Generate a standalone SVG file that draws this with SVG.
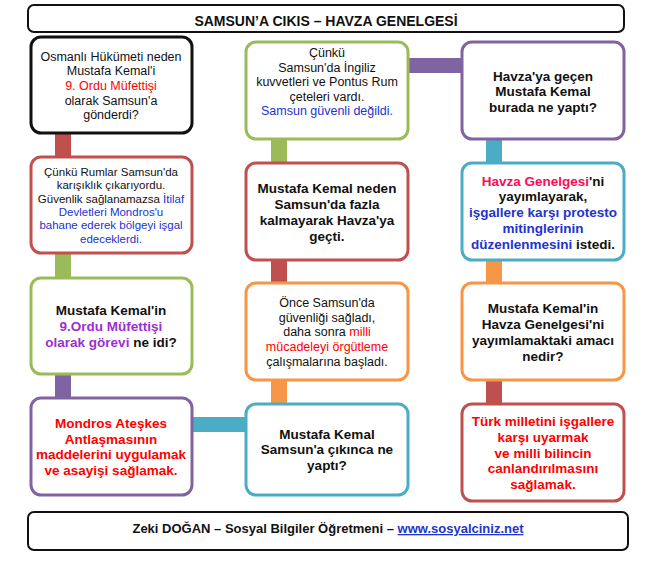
<svg xmlns="http://www.w3.org/2000/svg" width="648" height="570" viewBox="0 0 648 570">
<style>
text{font-family:"Liberation Sans",Arial,sans-serif;text-anchor:middle;fill:#111}
.q{font-weight:bold;font-size:13.5px}
.n{font-size:12.5px}
.s{font-size:11.5px}
.box{fill:#fff;stroke-width:3}
.r{fill:#f00}.b{fill:#2233cc}.p{fill:#9b30d0}.k{fill:#ff0a55}
</style>
<rect width="648" height="570" fill="#fff"/>
<g id="connectors">
<rect x="55" y="131" width="16" height="28" fill="#c0504d"/>
<rect x="55" y="251" width="16" height="28" fill="#9bbb59"/>
<rect x="55" y="372" width="16" height="28" fill="#8064a2"/>
<rect x="271" y="137" width="16" height="28" fill="#9bbb59"/>
<rect x="271" y="258" width="16" height="27" fill="#c0504d"/>
<rect x="271" y="378" width="16" height="28" fill="#f79646"/>
<rect x="486" y="137" width="16" height="28" fill="#4bacc6"/>
<rect x="486" y="258" width="16" height="27" fill="#f79646"/>
<rect x="486" y="378" width="16" height="28" fill="#c0504d"/>
<rect x="406" y="58" width="58" height="15" fill="#8064a2"/>
<rect x="190" y="417" width="58" height="15" fill="#4bacc6"/>
</g>
<g id="title"><rect x="28" y="5" width="596" height="27" rx="6" fill="#fff" stroke="#111" stroke-width="2"/>
<text x="326" y="26" style="font-weight:bold;font-size:14px">SAMSUN’A CIKIS – HAVZA GENELGESİ</text></g>
<g id="n1"><rect class="box" x="31" y="37" width="161" height="96" rx="10" stroke="#111"/>
<text class="n" x="111" y="61">Osmanlı Hükümeti neden</text><text class="n" x="111" y="75">Mustafa Kemal'i</text><text class="n r" x="111" y="90">9. Ordu Müfettişi</text><text class="n" x="111" y="105">olarak Samsun'a</text><text class="n" x="111" y="119">gönderdi?</text></g>
<g id="n2"><rect class="box" x="31" y="157" width="161" height="96" rx="10" stroke="#c0504d"/>
<text class="s" x="111" y="176">Çünkü Rumlar Samsun'da</text><text class="s" x="111" y="189">karışıklık çıkarıyordu.</text><text class="s" x="111" y="203">Güvenlik sağlanamazsa <tspan class="b">İtilaf</tspan></text><text class="s b" x="111" y="216">Devletleri Mondros'u</text><text class="s b" x="111" y="229">bahane ederek bölgeyi işgal</text><text class="s b" x="111" y="243">edeceklerdi.</text></g>
<g id="n3"><rect class="box" x="31" y="278" width="161" height="96" rx="10" stroke="#9bbb59"/>
<text class="q" x="111" y="315">Mustafa Kemal'in</text><text class="q p" x="111" y="331">9.Ordu Müfettişi</text><text class="q" x="111" y="347"><tspan class="p">olarak görevi</tspan> ne idi?</text></g>
<g id="n4"><rect class="box" x="31" y="398" width="161" height="97" rx="10" stroke="#8064a2"/>
<text class="q r" x="111" y="428">Mondros Ateşkes</text><text class="q r" x="111" y="444">Antlaşmasının</text><text class="q r" x="111" y="459">maddelerini uygulamak</text><text class="q r" x="111" y="475">ve asayişi sağlamak.</text></g>
<g id="n5"><rect class="box" x="246" y="42" width="162" height="97" rx="10" stroke="#9bbb59"/>
<text class="n" x="327" y="57">Çünkü</text><text class="n" x="327" y="72">Samsun'da İngiliz</text><text class="n" x="327" y="86">kuvvetleri ve Pontus Rum</text><text class="n" x="327" y="101">çeteleri vardı.</text><text class="n b" x="327" y="115">Samsun güvenli değildi.</text></g>
<g id="n6"><rect class="box" x="246" y="163" width="162" height="97" rx="10" stroke="#c0504d"/>
<text class="q" x="327" y="193">Mustafa Kemal neden</text><text class="q" x="327" y="209">Samsun'da fazla</text><text class="q" x="327" y="225">kalmayarak Havza'ya</text><text class="q" x="327" y="241">geçti.</text></g>
<g id="n7"><rect class="box" x="246" y="283" width="162" height="97" rx="10" stroke="#f79646"/>
<text class="n" x="327" y="307">Önce Samsun'da</text><text class="n" x="327" y="322">güvenliği sağladı,</text><text class="n" x="327" y="336">daha sonra <tspan class="r">milli</tspan></text><text class="n r" x="327" y="351">mücadeleyi örgütleme</text><text class="n" x="327" y="366">çalışmalarına başladı.</text></g>
<g id="n8"><rect class="box" x="246" y="404" width="162" height="91" rx="10" stroke="#4bacc6"/>
<text class="q" x="327" y="439">Mustafa Kemal</text><text class="q" x="327" y="454">Samsun'a çıkınca ne</text><text class="q" x="327" y="470">yaptı?</text></g>
<g id="n9"><rect class="box" x="462" y="42" width="162" height="97" rx="10" stroke="#8064a2"/>
<text class="q" x="543" y="81">Havza'ya geçen</text><text class="q" x="543" y="96">Mustafa Kemal</text><text class="q" x="543" y="112">burada ne yaptı?</text></g>
<g id="n10"><rect class="box" x="462" y="163" width="162" height="97" rx="10" stroke="#4bacc6"/>
<text class="q" x="543" y="186"><tspan class="k">Havza Genelgesi</tspan>'ni</text><text class="q" x="543" y="201">yayımlayarak,</text><text class="q b" x="543" y="217">işgallere karşı protesto</text><text class="q b" x="543" y="233">mitinglerinin</text><text class="q" x="543" y="249"><tspan class="b">düzenlenmesini</tspan> istedi.</text></g>
<g id="n11"><rect class="box" x="462" y="283" width="162" height="97" rx="10" stroke="#f79646"/>
<text class="q" x="543" y="313">Mustafa Kemal'in</text><text class="q" x="543" y="329">Havza Genelgesi'ni</text><text class="q" x="543" y="345">yayımlamaktaki amacı</text><text class="q" x="543" y="361">nedir?</text></g>
<g id="n12"><rect class="box" x="462" y="404" width="162" height="97" rx="10" stroke="#c0504d"/>
<text class="q r" x="543" y="426">Türk milletini işgallere</text><text class="q r" x="543" y="442">karşı uyarmak</text><text class="q r" x="543" y="458">ve milli bilincin</text><text class="q r" x="543" y="473">canlandırılmasını</text><text class="q r" x="543" y="489">sağlamak.</text></g>
<g id="footer"><rect x="28" y="512" width="600" height="38" rx="6" fill="#fff" stroke="#111" stroke-width="2"/>
<text x="328" y="533" style="font-weight:bold;font-size:13px">Zeki DOĞAN – Sosyal Bilgiler Öğretmeni – <tspan class="b" text-decoration="underline">www.sosyalciniz.net</tspan></text></g>
</svg>
